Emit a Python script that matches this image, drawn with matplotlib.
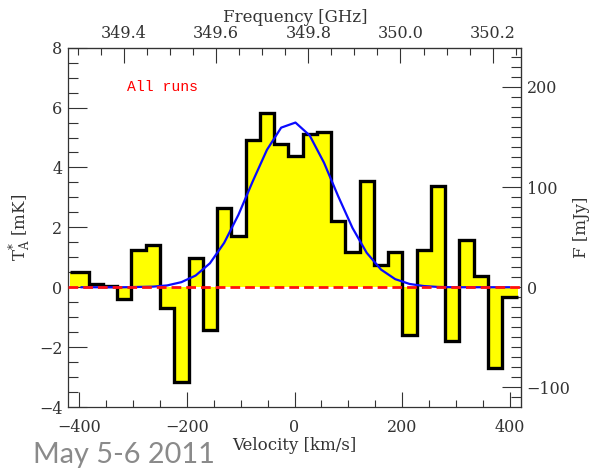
import matplotlib
matplotlib.use("Agg")
import matplotlib.pyplot as plt
from matplotlib.ticker import MultipleLocator, FixedLocator, FormatStrFormatter

plt.rcParams['font.family'] = 'serif'
plt.rcParams['font.serif'] = ['DejaVu Serif']
plt.rcParams['mathtext.fontset'] = 'dejavuserif'

# channel edges [km/s] and antenna temperature per channel [mK]
edges = [-417.0, -382.5, -356.0, -329.5, -303.0, -276.5, -250.0, -223.5, -197.0,
         -170.5, -144.0, -117.5, -91.0, -64.5, -38.0, -11.5, 15.0, 41.5, 68.0,
         94.5, 121.0, 147.5, 174.0, 200.5, 227.0, 253.5, 280.0, 306.5, 333.0,
         359.5, 386.0, 415.0]
ta_mk = [0.5, 0.1, 0.05, -0.4, 1.24, 1.40, -0.68, -3.17, 0.98, -1.44, 2.65,
         1.72, 4.92, 5.81, 4.78, 4.39, 5.12, 5.19, 2.21, 1.18, 3.55, 0.73,
         1.18, -1.58, 1.24, 3.39, -1.80, 1.57, 0.38, -2.69, -0.33]

# gaussian fit sampled at the channel centres
v_fit = [-395.8, -369.2, -342.8, -316.2, -289.8, -263.2, -236.8, -210.2,
         -183.8, -157.2, -130.8, -104.2, -77.8, -51.2, -24.8, 1.8, 28.2,
         54.8, 81.2, 107.8, 134.2, 160.8, 187.2, 213.8, 240.2, 266.8, 293.2,
         319.8, 346.2, 372.8, 399.2]
fit_mk = [0, 0, 0, 0, 0.01, 0.02, 0.06, 0.17, 0.39, 0.80, 1.48, 2.42, 3.53,
          4.59, 5.33, 5.50, 5.07, 4.16, 3.04, 1.98, 1.15, 0.59, 0.27, 0.11,
          0.04, 0.01, 0, 0, 0, 0, 0]

freq_ticks = [349.4, 349.6, 349.8, 350.0, 350.2]
flux_ticks = [-100, 0, 100, 200]

label_text = "All runs"
date_text = "May 5-6 2011"

# axis conversions
f_ref, v_ref, ghz_per_kms = 349.8, 25.6, 0.2 / 171.4
mjy_per_mk = 29.9

def v2f(v):
    return f_ref + (v - v_ref) * ghz_per_kms

def f2v(f):
    return v_ref + (f - f_ref) / ghz_per_kms

fg = '#333333'
tsize = 11.5

fig = plt.figure(figsize=(5.92, 4.68), dpi=100)
ax = fig.add_axes([68 / 592, 1 - 407 / 468, 453 / 592, 359.3 / 468])

ax.stairs(ta_mk, edges, baseline=0, fill=True, color='#ffff00', zorder=1)
ax.stairs(ta_mk, edges, baseline=None, color='black', lw=2.4, zorder=2)
ax.plot(v_fit, fit_mk, color='#0a0aff', lw=1.6, zorder=3)
ax.axhline(0, color='#ff1010', lw=2.0, ls=(0, (3.5, 1.8)), zorder=4)

ax.set_xlim(-421, 421)
ax.set_ylim(-4, 8)

ax.xaxis.set_major_locator(MultipleLocator(200))
ax.xaxis.set_minor_locator(MultipleLocator(50))
ax.yaxis.set_major_locator(MultipleLocator(2))
ax.yaxis.set_minor_locator(MultipleLocator(0.5))

for s in ax.spines.values():
    s.set_color(fg)
    s.set_linewidth(0.9)

ax.tick_params(axis='x', which='major', direction='in', length=11, width=0.8,
               color=fg, labelcolor=fg, labelsize=tsize, pad=9)
ax.tick_params(axis='x', which='minor', direction='in', length=5, width=0.8, color=fg)
ax.tick_params(axis='y', which='major', direction='in', length=14, width=0.8,
               color=fg, labelcolor=fg, labelsize=tsize, pad=4)
ax.tick_params(axis='y', which='minor', direction='in', length=7, width=0.8, color=fg)

top = ax.secondary_xaxis('top', functions=(v2f, f2v))
top.xaxis.set_major_locator(FixedLocator(freq_ticks))
top.xaxis.set_minor_locator(MultipleLocator(0.05))
top.xaxis.set_major_formatter(FormatStrFormatter('%.1f'))
top.tick_params(axis='x', which='major', direction='in', length=11, width=0.8,
                color=fg, labelcolor=fg, labelsize=tsize, pad=4)
top.tick_params(axis='x', which='minor', direction='in', length=5, width=0.8, color=fg)
top.spines['top'].set_color(fg)

right = ax.secondary_yaxis('right', functions=(lambda t: t * mjy_per_mk,
                                               lambda s: s / mjy_per_mk))
right.yaxis.set_major_locator(FixedLocator(flux_ticks))
right.yaxis.set_minor_locator(MultipleLocator(10))
right.tick_params(axis='y', which='major', direction='in', length=14, width=0.8,
                  color=fg, labelcolor=fg, labelsize=tsize, pad=4)
right.tick_params(axis='y', which='minor', direction='in', length=7, width=0.8, color=fg)
right.spines['right'].set_color(fg)

ax.text(-312, 6.7, label_text, color='red', fontsize=10.6, va='center', ha='left',
        family=['Liberation Mono', 'DejaVu Sans Mono'])

fig.text(295 / 592, 1 - 18 / 468, 'Frequency [GHz]', ha='center', va='center',
         fontsize=12, color=fg)
fig.text(294 / 592, 1 - 446 / 468, 'Velocity [km/s]', ha='center', va='center',
         fontsize=12, color=fg)
fig.text(20 / 592, 1 - 227 / 468, r'$\mathrm{T}_\mathrm{A}^{*}$ [mK]', rotation=90,
         ha='center', va='center', fontsize=12, color=fg)
fig.text(582 / 592, 1 - 227 / 468, 'F [mJy]', rotation=90,
         ha='center', va='center', fontsize=12, color=fg)

fig.text(33 / 592, 1 - 463 / 468, date_text, color='#8a8a8a', fontsize=20.8,
         family=['Lato', 'DejaVu Sans'], ha='left', va='baseline')

fig.savefig('out.png', dpi=100)
